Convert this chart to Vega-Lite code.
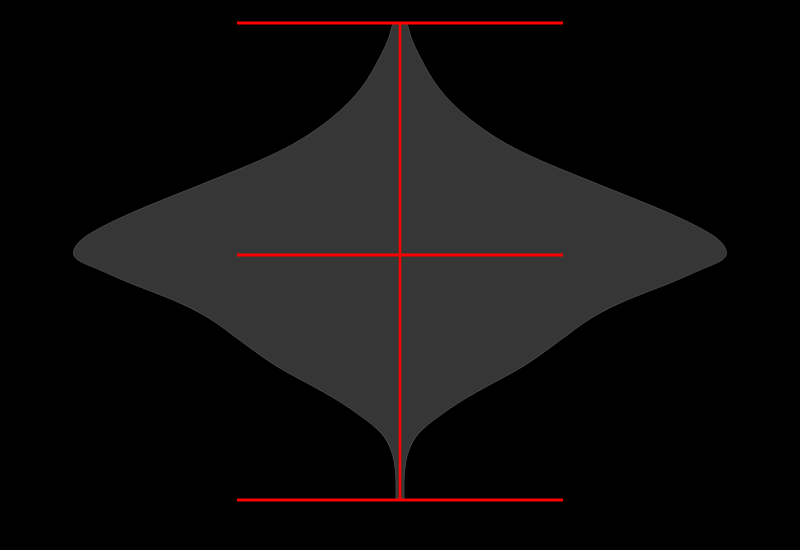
{
  "$schema": "https://vega.github.io/schema/vega-lite/v6.json",
  "width": 800,
  "height": 550,
  "autosize": {"type": "fit", "contains": "padding"},
  "padding": 0,
  "background": "black",
  "config": {"view": {"stroke": null}},
  "datasets": {
    "density": [
      {"value": 0.0, "width": 0.0123},
      {"value": 0.0356, "width": 0.0123},
      {"value": 0.0692, "width": 0.0153},
      {"value": 0.1048, "width": 0.0276},
      {"value": 0.1405, "width": 0.0583},
      {"value": 0.174, "width": 0.1166},
      {"value": 0.2096, "width": 0.1933},
      {"value": 0.2453, "width": 0.2853},
      {"value": 0.2788, "width": 0.3742},
      {"value": 0.3145, "width": 0.4509},
      {"value": 0.3501, "width": 0.5215},
      {"value": 0.3836, "width": 0.592},
      {"value": 0.4193, "width": 0.6963},
      {"value": 0.4549, "width": 0.8282},
      {"value": 0.4822, "width": 0.9202},
      {"value": 0.5031, "width": 0.9877},
      {"value": 0.5241, "width": 1.0},
      {"value": 0.5514, "width": 0.9663},
      {"value": 0.587, "width": 0.8712},
      {"value": 0.6226, "width": 0.7515},
      {"value": 0.6562, "width": 0.6288},
      {"value": 0.6918, "width": 0.5},
      {"value": 0.7275, "width": 0.3804},
      {"value": 0.761, "width": 0.2914},
      {"value": 0.7966, "width": 0.2178},
      {"value": 0.8323, "width": 0.1595},
      {"value": 0.8658, "width": 0.1166},
      {"value": 0.9015, "width": 0.0828},
      {"value": 0.9371, "width": 0.0552},
      {"value": 0.9644, "width": 0.0368},
      {"value": 1.0, "width": 0.0215}
    ],
    "stats": [
      {"stat": "max", "value": 1.0},
      {"stat": "median", "value": 0.5136},
      {"stat": "min", "value": 0.0}
    ]
  },
  "layer": [
    {
      "data": {"name": "density"},
      "mark": {
        "type": "area",
        "orient": "horizontal",
        "fill": "#363636",
        "stroke": "#505050",
        "strokeWidth": 0.8,
        "interpolate": "natural"
      },
      "encoding": {
        "y": {
          "field": "value",
          "type": "quantitative",
          "scale": {"domain": [-0.1048, 1.0482], "nice": false, "zero": false},
          "axis": null
        },
        "x": {
          "field": "width",
          "type": "quantitative",
          "stack": "center",
          "scale": {"domain": [-0.1135, 1.1135], "nice": false},
          "axis": null
        }
      }
    },
    {
      "data": {"name": "stats"},
      "mark": {"type": "rule", "color": "red", "strokeWidth": 3},
      "encoding": {
        "y": {"field": "value", "type": "quantitative"},
        "x": {"datum": 0.25},
        "x2": {"datum": 0.75}
      }
    },
    {
      "data": {"name": "stats"},
      "mark": {"type": "rule", "color": "red", "strokeWidth": 2.5},
      "encoding": {
        "y": {"aggregate": "min", "field": "value", "type": "quantitative"},
        "y2": {"aggregate": "max", "field": "value"},
        "x": {"datum": 0.5}
      }
    }
  ]
}
